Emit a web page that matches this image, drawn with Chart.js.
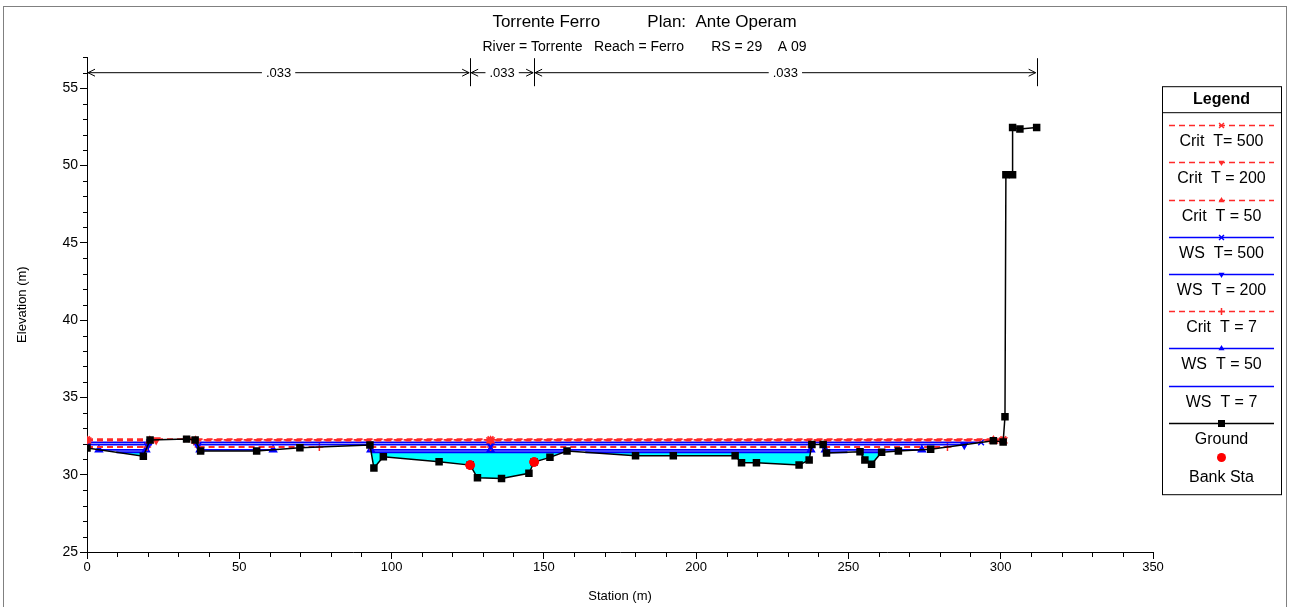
<!DOCTYPE html>
<html>
<head>
<meta charset="utf-8">
<title>Torrente Ferro - RS 29</title>
<script src="https://cdn.jsdelivr.net/npm/chart.js@4.4.1/dist/chart.umd.min.js"></script>
<style>
  html, body { margin: 0; padding: 0; background: #fff; }
  #wrap { width: 1289px; height: 607px; }
</style>
</head>
<body>
<div id="wrap"><canvas id="xs"></canvas></div>
<script>
// ground profile (station m / elevation m)
const groundSta  = [0, 18.5, 20.7, 32.7, 35.5, 37.3, 55.7, 69.9, 92.9, 94.2, 97.3, 115.6, 125.8, 128.2, 136.1, 145.1, 146.8, 152.0, 157.6,
                    180.1, 192.5, 212.8, 214.9, 219.8, 233.8, 237.1, 238.0, 241.7, 242.8, 253.8, 255.4, 257.6, 260.9, 266.4, 277.0,
                    297.6, 300.8, 301.4, 301.7, 303.9, 303.9, 306.3, 311.8];
const groundElev = [31.72, 31.20, 32.24, 32.30, 32.24, 31.53, 31.53, 31.74, 31.92, 30.43, 31.16, 30.84, 30.62, 29.80, 29.76, 30.09, 30.82, 31.12, 31.53,
                    31.23, 31.23, 31.23, 30.77, 30.77, 30.62, 30.95, 31.95, 31.95, 31.40, 31.48, 30.95, 30.67, 31.45, 31.53, 31.64,
                    32.20, 32.12, 33.75, 49.40, 49.40, 52.45, 52.35, 52.45];

// bank stations
const bankSta  = [125.8, 146.8];
const bankElev = [30.62, 30.82];

// water surface / critical profiles
const profileNames = ['Crit  T= 500', 'Crit  T = 200', 'Crit  T = 50', 'WS  T= 500', 'WS  T = 200', 'Crit  T = 7', 'WS  T = 50', 'WS  T = 7'];
const profileElev  = [32.30, 32.25, 32.20, 32.09, 31.94, 31.79, 31.61, 31.45];
const markStations = [132.5];

// Manning's n regions
const nBounds = [0, 125.8, 146.8, 311.8];
const nValues = ['.033', '.033', '.033'];

const RED = '#ff2a2a';
const BLUE = '#0000ff';
const profileStyle = [
  { color: RED,  dash: [6, 4], marker: 'crossRot', rot: 0 },
  { color: RED,  dash: [6, 4], marker: 'triangle', rot: 180 },
  { color: RED,  dash: [6, 4], marker: 'triangle', rot: 0 },
  { color: BLUE, dash: [],     marker: 'crossRot', rot: 0 },
  { color: BLUE, dash: [],     marker: 'triangle', rot: 180 },
  { color: RED,  dash: [6, 4], marker: 'cross',    rot: 0 },
  { color: BLUE, dash: [],     marker: 'triangle', rot: 0 },
  { color: BLUE, dash: [],     marker: false,      rot: 0 }
];

const FONT = "'Liberation Sans', Arial, sans-serif";
Chart.defaults.font.family = FONT;
Chart.defaults.color = '#000';

// parts of the section where ground is below a level
function wetSegments(level) {
  const segs = [];
  let start = groundElev[0] < level ? groundSta[0] : null;
  for (let i = 1; i < groundSta.length; i++) {
    const z0 = groundElev[i - 1], z1 = groundElev[i];
    if ((z0 < level) !== (z1 < level)) {
      const t = (level - z0) / (z1 - z0);
      const xs = groundSta[i - 1] + t * (groundSta[i] - groundSta[i - 1]);
      if (z1 < level) start = xs;
      else { segs.push([start, xs]); start = null; }
    }
  }
  if (start !== null) segs.push([start, groundSta[groundSta.length - 1]]);
  return segs;
}

function profileData(level) {
  const pts = [];
  wetSegments(level).forEach(([a, b]) => {
    pts.push({ x: a, y: level });
    markStations.filter(s => s > a && s < b).forEach(s => pts.push({ x: s, y: level }));
    pts.push({ x: b, y: level });
    pts.push({ x: b, y: null });
  });
  return pts;
}

// ground clamped to the water level, used for the cyan fill
function waterData(level) {
  const pts = [];
  for (let i = 0; i < groundSta.length; i++) {
    if (i > 0) {
      const z0 = groundElev[i - 1], z1 = groundElev[i];
      if ((z0 - level) * (z1 - level) < 0) {
        const t = (level - z0) / (z1 - z0);
        pts.push({ x: groundSta[i - 1] + t * (groundSta[i] - groundSta[i - 1]), y: level });
      }
    }
    pts.push({ x: groundSta[i], y: Math.min(groundElev[i], level) });
  }
  return pts;
}

const datasets = [];
datasets.push({
  label: 'Bank Sta',
  data: bankSta.map((s, i) => ({ x: s, y: bankElev[i] })),
  showLine: false, pointStyle: 'circle', pointRadius: 4.5,
  pointBackgroundColor: '#ff0000', pointBorderColor: '#ff0000', order: 0
});
datasets.push({
  label: 'Ground',
  data: groundSta.map((s, i) => ({ x: s, y: groundElev[i] })),
  showLine: true, borderColor: '#000', borderWidth: 1.5,
  pointStyle: 'rect', pointRadius: 5.3, pointBackgroundColor: '#000', pointBorderColor: '#000', pointBorderWidth: 0,
  order: 1
});
profileNames.forEach((name, i) => {
  const st = profileStyle[i];
  datasets.push({
    label: name,
    data: profileData(profileElev[i]),
    showLine: true, spanGaps: false,
    borderColor: st.color, borderWidth: 1.8, borderDash: st.dash,
    pointStyle: st.marker || 'circle', pointRadius: st.marker ? 4 : 0, pointRotation: st.rot,
    pointBackgroundColor: st.color, pointBorderColor: st.color, pointBorderWidth: 1.5,
    order: 2 + i
  });
});
datasets.push({
  label: 'water',
  data: waterData(profileElev[7]),
  showLine: true, borderWidth: 0, pointRadius: 0,
  backgroundColor: '#00ffff', fill: { value: profileElev[7] },
  order: 20
});

function drawMarker(ctx, style, rot, x, y, r) {
  ctx.save();
  ctx.translate(x, y);
  ctx.rotate(rot * Math.PI / 180);
  ctx.beginPath();
  if (style === 'triangle') {
    ctx.moveTo(0, -r); ctx.lineTo(r * 0.87, r * 0.5); ctx.lineTo(-r * 0.87, r * 0.5); ctx.closePath(); ctx.fill();
  } else if (style === 'crossRot') {
    const d = r * 0.7;
    ctx.moveTo(-d, -d); ctx.lineTo(d, d); ctx.moveTo(d, -d); ctx.lineTo(-d, d); ctx.stroke();
  } else if (style === 'cross') {
    ctx.moveTo(-r, 0); ctx.lineTo(r, 0); ctx.moveTo(0, -r); ctx.lineTo(0, r); ctx.stroke();
  } else if (style === 'rect') {
    ctx.fillRect(-r, -r, 2 * r, 2 * r);
  } else if (style === 'circle') {
    ctx.arc(0, 0, r, 0, Math.PI * 2); ctx.fill();
  }
  ctx.restore();
}

// minor ticks, shorter than the labelled ones
const minorTicks = {
  id: 'minorTicks',
  afterDraw(chart) {
    const { ctx, scales: { x, y }, chartArea } = chart;
    ctx.save();
    ctx.strokeStyle = '#000';
    ctx.lineWidth = 1;
    ctx.beginPath();
    x.ticks.forEach(t => {
      if (t.value % 50 !== 0) {
        const px = Math.round(x.getPixelForValue(t.value)) + 0.5;
        ctx.moveTo(px, chartArea.bottom); ctx.lineTo(px, chartArea.bottom + 5);
      }
    });
    y.ticks.forEach(t => {
      if (t.value % 5 !== 0) {
        const py = Math.round(y.getPixelForValue(t.value)) + 0.5;
        ctx.moveTo(chartArea.left - 4, py); ctx.lineTo(chartArea.left, py);
      }
    });
    ctx.stroke();
    ctx.restore();
  }
};

// n value arrows across the top
const nArrows = {
  id: 'nArrows',
  afterDatasetsDraw(chart) {
    const { ctx, scales: { x }, chartArea } = chart;
    const yA = chartArea.top + 15;
    ctx.save();
    ctx.strokeStyle = '#000';
    ctx.fillStyle = '#000';
    ctx.lineWidth = 1;
    ctx.font = '13px ' + FONT;
    ctx.textAlign = 'center';
    ctx.textBaseline = 'middle';
    ctx.beginPath();
    nBounds.forEach(b => {
      const px = Math.round(x.getPixelForValue(b)) + 0.5;
      ctx.moveTo(px, chartArea.top + 1); ctx.lineTo(px, chartArea.top + 29);
    });
    nValues.forEach((v, i) => {
      const x0 = x.getPixelForValue(nBounds[i]);
      const x1 = x.getPixelForValue(nBounds[i + 1]);
      const xm = (x0 + x1) / 2;
      const w = ctx.measureText(v).width;
      ctx.moveTo(x0 + 1, yA + 0.5); ctx.lineTo(xm - w / 2 - 4, yA + 0.5);
      ctx.moveTo(xm + w / 2 + 4, yA + 0.5); ctx.lineTo(x1 - 1, yA + 0.5);
      ctx.moveTo(x0 + 8, yA - 3); ctx.lineTo(x0 + 1, yA + 0.5); ctx.lineTo(x0 + 8, yA + 4);
      ctx.moveTo(x1 - 8, yA - 3); ctx.lineTo(x1 - 1, yA + 0.5); ctx.lineTo(x1 - 8, yA + 4);
      ctx.fillText(v, xm, yA + 1);
    });
    ctx.stroke();
    ctx.restore();
  }
};

// boxed legend on the right, line sample above each label
const boxLegend = {
  id: 'boxLegend',
  afterDraw(chart) {
    const { ctx, chartArea } = chart;
    const left = chartArea.right + 9, right = chart.width - 8;
    const top = chartArea.top + 29, bottom = chartArea.top + 437;
    const cx = (left + right) / 2;
    ctx.save();
    ctx.strokeStyle = '#000';
    ctx.lineWidth = 1;
    ctx.strokeRect(left + 0.5, top + 0.5, right - left, bottom - top);
    ctx.beginPath();
    ctx.moveTo(left, top + 26.5); ctx.lineTo(right, top + 26.5);
    ctx.stroke();
    ctx.fillStyle = '#000';
    ctx.textAlign = 'center';
    ctx.textBaseline = 'middle';
    ctx.font = 'bold 16px ' + FONT;
    ctx.fillText('Legend', cx, top + 13);
    ctx.font = '16px ' + FONT;

    const items = profileNames.map((n, i) => ({ label: n, ...profileStyle[i] }));
    items.push({ label: 'Ground', color: '#000', dash: [], marker: 'rect', rot: 0 });
    items.push({ label: 'Bank Sta', color: '#ff0000', dash: null, marker: 'circle', rot: 0 });
    items.forEach((it, i) => {
      const ly = Math.round(top + 39 + i * 37.2) + 0.5;
      ctx.strokeStyle = it.color;
      ctx.fillStyle = it.color;
      if (it.dash) {
        ctx.lineWidth = 1.5;
        ctx.setLineDash(it.dash);
        ctx.beginPath();
        ctx.moveTo(left + 7, ly); ctx.lineTo(right - 7, ly);
        ctx.stroke();
        ctx.setLineDash([]);
      }
      if (it.marker) {
        ctx.lineWidth = 1.5;
        const r = it.marker === 'rect' ? 3.5 : it.marker === 'circle' ? 4.5 : 3.5;
        drawMarker(ctx, it.marker, it.rot, cx, it.label === 'Bank Sta' ? ly - 3 : ly, r);
      }
      ctx.fillStyle = '#000';
      ctx.fillText(it.label, cx, ly + (it.label === 'Bank Sta' ? 17 : 16.5));
    });
    ctx.restore();
  }
};

// grey frame round the picture
const frame = {
  id: 'frame',
  afterDraw(chart) {
    const { ctx } = chart;
    ctx.save();
    ctx.strokeStyle = '#808080';
    ctx.lineWidth = 1;
    ctx.strokeRect(3.5, 6.5, chart.width - 6, chart.height);
    ctx.restore();
  }
};

new Chart(document.getElementById('xs'), {
  type: 'scatter',
  data: { datasets },
  options: {
    responsive: true,
    maintainAspectRatio: false,
    animation: false,
    layout: { padding: 0 },
    plugins: {
      legend: { display: false },
      tooltip: { enabled: false },
      title: {
        display: true,
        text: 'Torrente Ferro          Plan:  Ante Operam',
        font: { size: 17, weight: 'normal' },
        color: '#000',
        padding: { top: 12, bottom: 6 }
      },
      subtitle: {
        display: true,
        text: 'River = Torrente   Reach = Ferro       RS = 29    A 09',
        font: { size: 14, weight: 'normal' },
        color: '#000',
        padding: { top: 0, bottom: 2 }
      }
    },
    scales: {
      x: {
        type: 'linear', min: 0, max: 350,
        afterFit(s) { s.height = 55; },
        ticks: {
          stepSize: 10, padding: 1, font: { size: 13 }, color: '#000', maxRotation: 0, autoSkip: false,
          callback: v => (v % 50 === 0 ? v : '')
        },
        grid: {
          drawOnChartArea: false, tickLength: 7,
          tickColor: c => (c.tick && c.tick.value % 50 === 0 ? '#000' : 'rgba(0,0,0,0)')
        },
        border: { display: true, color: '#000', width: 1 },
        title: { display: true, text: 'Station (m)', font: { size: 13 }, color: '#000', padding: { top: 0, bottom: 3 } }
      },
      y: {
        type: 'linear', min: 25, max: 57,
        afterFit(s) { s.width = 87; },
        ticks: {
          stepSize: 1, padding: 2, font: { size: 14 }, color: '#000', autoSkip: false,
          callback: v => (v % 5 === 0 ? v : '')
        },
        grid: {
          drawOnChartArea: false, tickLength: 7,
          tickColor: c => (c.tick && c.tick.value % 5 === 0 ? '#000' : 'rgba(0,0,0,0)')
        },
        border: { display: true, color: '#000', width: 1 },
        title: { display: true, text: 'Elevation (m)', font: { size: 13 }, color: '#000', padding: { top: 15, bottom: 0 } }
      },
      // empty axis that keeps room for the legend box
      yLegend: {
        type: 'linear', position: 'right', display: true,
        afterFit(s) { s.width = 136; },
        ticks: { display: false },
        grid: { display: false },
        border: { display: false }
      }
    }
  },
  plugins: [minorTicks, nArrows, boxLegend, frame]
});
</script>
</body>
</html>
